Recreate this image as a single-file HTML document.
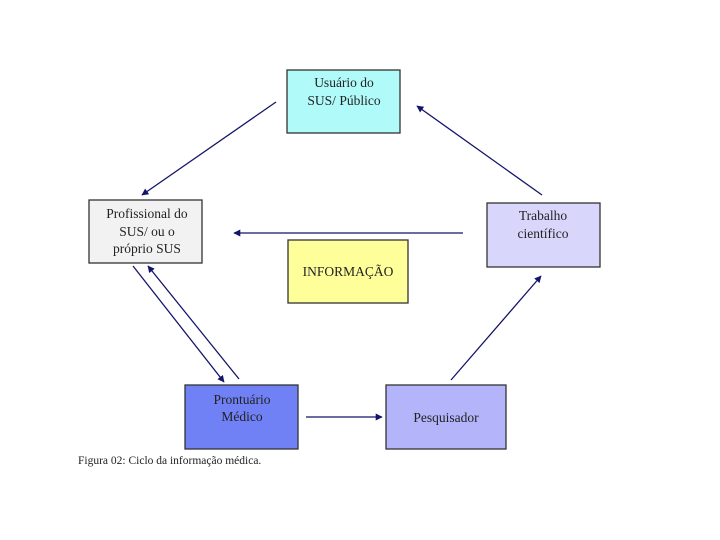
<!DOCTYPE html>
<html><head><meta charset="utf-8"><style>
html,body{margin:0;padding:0;background:#fff;width:720px;height:540px;overflow:hidden}
svg{display:block}
text{font-family:"Liberation Serif",serif;font-size:13.5px;fill:#222}
</style></head><body>
<svg width="720" height="540" viewBox="0 0 720 540" xmlns="http://www.w3.org/2000/svg">
<defs>
<marker id="a" viewBox="0 0 10 10" refX="9" refY="5" markerWidth="7" markerHeight="7" orient="auto" markerUnits="userSpaceOnUse">
<path d="M0,0 L10,5 L0,10 z" fill="#14146a"/></marker>
</defs>
<g stroke="#333" stroke-width="1.3">
<rect x="287" y="70" width="113" height="63" fill="#b0fafa"/>
<rect x="89" y="200" width="113" height="63" fill="#f2f2f2"/>
<rect x="487" y="203" width="113" height="64" fill="#d9d6fb"/>
<rect x="288" y="240" width="120" height="63" fill="#ffff99"/>
<rect x="185" y="385" width="113" height="64" fill="#7080f5"/>
<rect x="386" y="385" width="120" height="64" fill="#b4b4fb"/>
</g>
<g stroke="#14146a" stroke-width="1.3" fill="none" marker-end="url(#a)">
<line x1="276" y1="102" x2="142" y2="195"/>
<line x1="542" y1="195" x2="417" y2="106"/>
<line x1="463" y1="233" x2="234" y2="233"/>
<line x1="133" y1="266" x2="224" y2="382"/>
<line x1="239" y1="379" x2="148" y2="266"/>
<line x1="306" y1="417" x2="382" y2="417"/>
<line x1="451" y1="380" x2="541" y2="276"/>
</g>
<g text-anchor="middle">
<text x="344" y="87">Usuário do</text>
<text x="344" y="105">SUS/ Público</text>
<text x="147" y="218">Profissional do</text>
<text x="147" y="236">SUS/ ou o</text>
<text x="147" y="253">próprio SUS</text>
<text x="543" y="220">Trabalho</text>
<text x="543" y="238">científico</text>
<text x="348" y="276">INFORMAÇÃO</text>
<text x="242" y="404">Prontuário</text>
<text x="242" y="421">Médico</text>
<text x="446" y="422">Pesquisador</text>
</g>
<text x="78" y="464" style="font-size:11.5px">Figura 02: Ciclo da informação médica.</text>
</svg>
</body></html>
